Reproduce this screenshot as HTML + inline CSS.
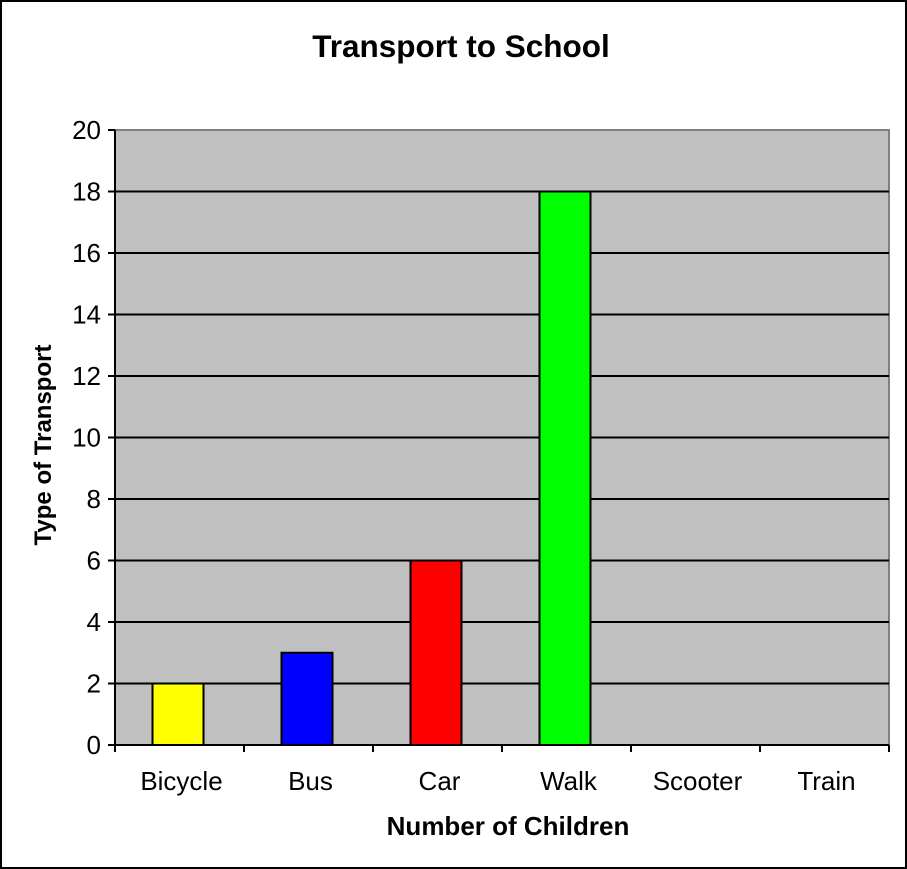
<!DOCTYPE html>
<html><head><meta charset="utf-8"><style>
html,body{margin:0;padding:0;background:#fff}
svg{display:block;font-family:"Liberation Sans",Arial,sans-serif}
</style></head><body>
<svg id="chart" width="907" height="869">
<rect x="1" y="1" width="905" height="867" fill="#fff" stroke="#000" stroke-width="2"/>
<text x="461" y="57" text-anchor="middle" font-size="31.5" font-weight="bold">Transport to School</text>
<rect x="115" y="130" width="774" height="615" fill="#c0c0c0" stroke="#808080" stroke-width="2"/>
<g id="grid"></g><g id="bars"></g><g id="axes"></g>
<text x="508" y="835" text-anchor="middle" font-size="26" font-weight="bold">Number of Children</text>
<text transform="translate(51,445) rotate(-90)" text-anchor="middle" font-size="24" font-weight="bold">Type of Transport</text>
</svg>
<script>
const categories = ["Bicycle","Bus","Car","Walk","Scooter","Train"];
const values = [2,3,6,18,0,0];
const colors = ["#ffff00","#0000ff","#ff0000","#00ff00","#c0c0c0","#c0c0c0"];
const yTicks = [0,2,4,6,8,10,12,14,16,18,20];
const NS="http://www.w3.org/2000/svg";
const L=115,R=889,T=130,B=745,yMax=20;
const cw=(R-L)/categories.length;
function y(v){return B-(v/yMax)*(B-T);}
function x(i){return L+i*cw;}
function mk(tag,attrs,parent){const e=document.createElementNS(NS,tag);for(const k in attrs)e.setAttribute(k,attrs[k]);parent.appendChild(e);return e;}
const grid=document.getElementById('grid'),bars=document.getElementById('bars'),axes=document.getElementById('axes');
yTicks.forEach(t=>{
  if(t>0&&t<yMax){const g=mk('line',{x1:L,x2:R,y1:y(t),y2:y(t),stroke:'#000','stroke-width':2},grid);
  
  }
  const tk=mk('line',{x1:L-7,x2:L,y1:y(t),y2:y(t),stroke:'#000','stroke-width':2},axes);
  
  
  const lb=mk('text',{x:L-14,y:y(t)+9,'text-anchor':'end','font-size':26},axes);lb.textContent=t;
  
  
});
categories.forEach((c,i)=>{
  const bw=51;
  if(values[i]>0){const b=mk('rect',{x:x(i)+cw/2-bw/2-1.5,y:y(values[i]),width:bw,height:B-y(values[i]),fill:colors[i],stroke:'#000','stroke-width':2},bars);
  
  }
  const lb=mk('text',{x:x(i)+cw/2+2,y:790,'text-anchor':'middle','font-size':26},axes);lb.textContent=c;
  
  
});
for(let i=0;i<=categories.length;i++){
  const tk=mk('line',{x1:x(i),x2:x(i),y1:B,y2:B+7,stroke:'#000','stroke-width':2},axes);
  
  
}
const ya=mk('line',{x1:L,x2:L,y1:T,y2:B,stroke:'#000','stroke-width':2},axes);


const xa=mk('line',{x1:L,x2:R,y1:B,y2:B,stroke:'#000','stroke-width':2},axes);


</script>
</body></html>
